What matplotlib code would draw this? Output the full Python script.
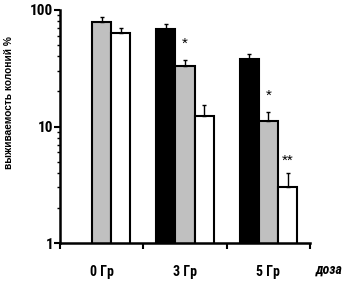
import numpy as np
import matplotlib
matplotlib.use("Agg")
import matplotlib.pyplot as plt
from matplotlib import font_manager as fm

# узкий шрифт, если есть
names = set(f.name for f in fm.fontManager.ttflist)
narrow = None
for n in ["Liberation Sans Narrow", "Arial Narrow", "Roboto Condensed", "Open Sans Condensed"]:
    if n in names:
        narrow = n
        break
if narrow is None:
    narrow = "Liberation Sans"
plt.rcParams['font.family'] = [narrow, 'Liberation Sans', 'DejaVu Sans']
plt.rcParams['font.weight'] = 'bold'

# данные
doses = ["0 Гр", "3 Гр", "5 Гр"]
black_vals = [np.nan, 69, 38]
black_err = [0, 7, 4]
gray_vals = [79, 33, 11.1]
gray_err = [8, 4, 2.3]
white_vals = [63, 12.3, 3.0]
white_err = [7, 3, 1.0]
stars_gray = ["", "*", "*"]
stars_white = ["", "", "**"]


def main():
    fig = plt.figure(figsize=(3.43, 2.85), dpi=100)
    ax = fig.add_axes([0.175, 0.147, 0.729, 0.818])

    x = np.arange(len(doses))
    w = 0.23
    ekw = dict(elinewidth=1.0, capsize=1.5, capthick=1.0, ecolor="black")
    series = [(black_vals, black_err, "black", -w),
              (gray_vals, gray_err, "#c0c0c0", 0),
              (white_vals, white_err, "white", w)]
    for vals, err, col, off in series:
        yerr = np.array([np.zeros(len(err)), err])
        ax.bar(x + off, vals, width=w, color=col, edgecolor="black",
               linewidth=1.5, yerr=yerr, error_kw=ekw, zorder=2)

    for i in range(len(doses)):
        if stars_gray[i]:
            ax.text(x[i], (gray_vals[i] + gray_err[i]) * 1.2, stars_gray[i],
                    ha="center", va="bottom", fontsize=11, fontweight="normal",
                    family="Liberation Sans")
        if stars_white[i]:
            ax.text(x[i] + w, (white_vals[i] + white_err[i]) * 1.1, stars_white[i],
                    ha="center", va="bottom", fontsize=11, fontweight="normal",
                    family="Liberation Sans")

    ax.set_yscale("log")
    ax.set_ylim(1, 100)
    ax.set_xlim(-0.5, 2.5)
    ax.set_yticks([1, 10, 100])
    ax.set_yticklabels(["1", "10", "100"], fontsize=11)
    ax.set_xticks(x)
    ax.set_xticklabels(doses, fontsize=10)
    ax.set_xticks([-0.5, 0.5, 1.5, 2.5], minor=True)
    ax.tick_params(axis="x", which="major", length=0, pad=16)
    ax.tick_params(axis="x", which="minor", length=4, width=1.5)
    ax.tick_params(axis="y", which="major", length=4, width=1.5, pad=1)
    ax.tick_params(axis="y", which="minor", length=2.5, width=1.0)

    for s in ["top", "right"]:
        ax.spines[s].set_visible(False)
    for s in ["left", "bottom"]:
        ax.spines[s].set_linewidth(1.8)

    fig.text(0.025, 0.64, "выживаемость колоний %", rotation=90, ha="center",
             va="center", fontsize=7.3, fontweight="bold", family="Liberation Sans")
    fig.text(0.922, 0.055, "доза", ha="left", va="center", fontsize=10,
             fontstyle="italic", fontweight="bold")

    fig.savefig("out.png", dpi=100)


if __name__ == "__main__":
    main()
